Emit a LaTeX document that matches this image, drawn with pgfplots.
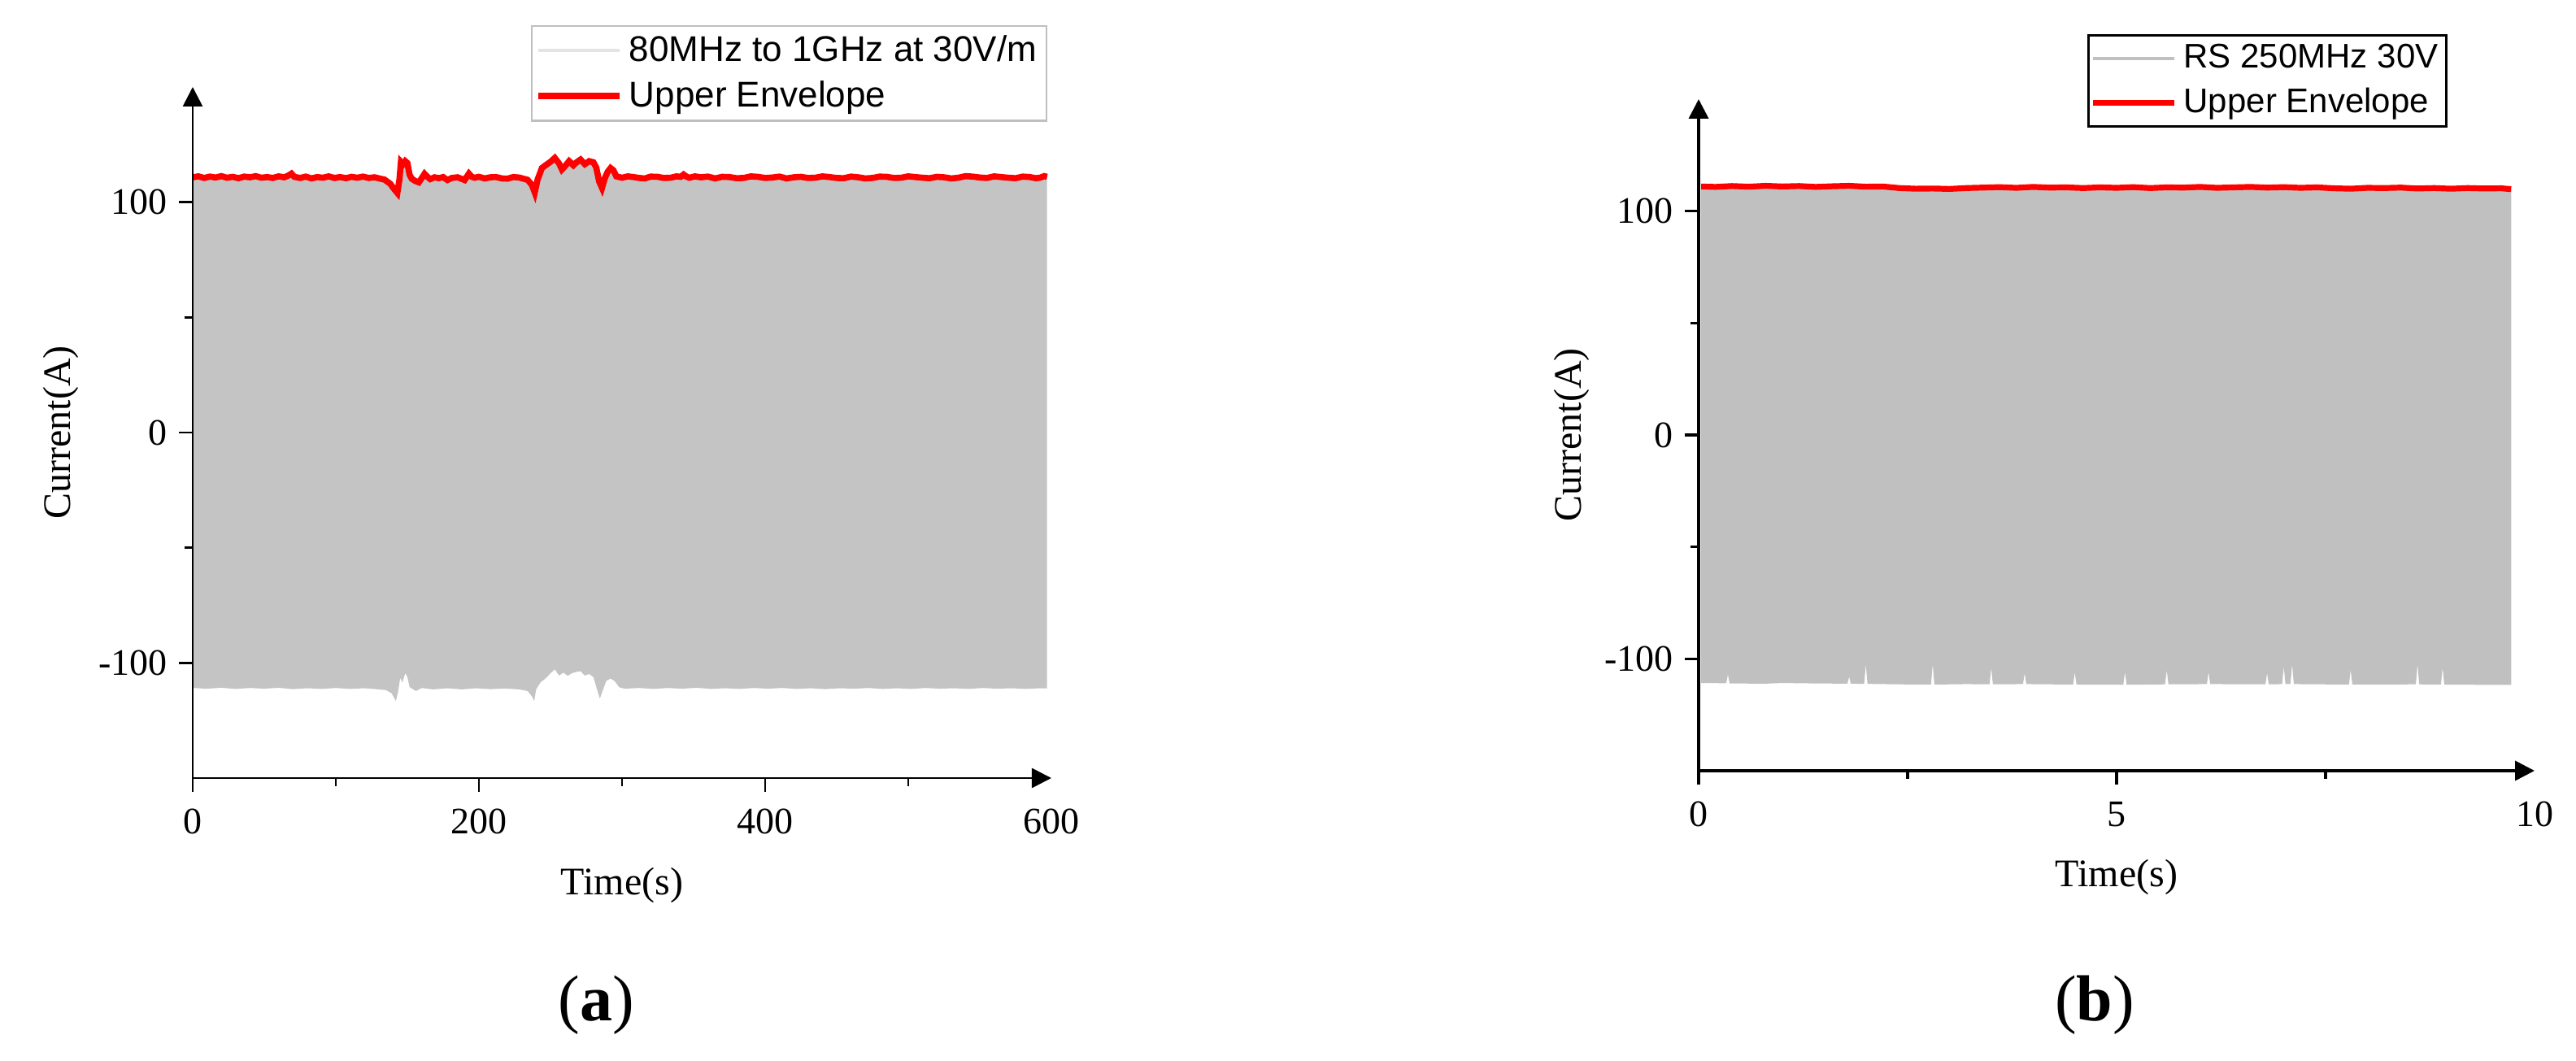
\documentclass[border=0pt]{standalone}
\usepackage{fontspec}
\setmainfont{Liberation Serif}
\newfontfamily\arial{Liberation Sans}
\usepackage{pgfplots}
\usepackage{pgfplotstable}
\pgfplotsset{compat=1.18}
\usepgfplotslibrary{fillbetween}
\usetikzlibrary{arrows.meta}
\definecolor{grayA}{RGB}{196,196,196}
\definecolor{grayB}{RGB}{192,192,192}
\definecolor{legA}{RGB}{228,228,228}

\pgfplotstableread{
x y
0 110.8
4 111.2
8 110.5
12 111.1
16 110.7
20 111.3
24 110.6
28 111.0
32 110.4
36 111.1
40 110.8
44 111.3
48 110.6
52 110.9
56 110.5
60 111.2
64 110.8
67 111.6
69 112.4
71 111.0
75 110.5
79 111.1
83 110.3
87 110.9
91 110.6
95 111.2
99 110.5
103 110.9
107 110.4
111 111.0
115 110.6
119 111.1
123 110.5
127 110.8
131 110.2
134 109.8
138 108.0
141 105.5
143 104.0
144.5 110
145.5 117.5
147 116.5
148.5 117.8
150 117.0
151.5 112
153 110.2
155.5 109.2
158 108.6
160 110.4
162 112.3
164 111.0
166 110.0
169 110.8
172 110.4
175 110.9
178 109.6
181 110.5
185 110.8
188 110.1
190 109.6
193 112.4
195 111.0
197 110.6
200 111.0
204 110.3
208 110.8
212 110.9
216 110.3
220 110.2
224 110.9
228 110.7
231 110.2
234 109.7
237 107.5
239 104.2
241 109.8
244 114.8
247 116.2
250 117.5
253 119.2
256 116.8
258 114.2
260 115.5
263 117.8
266 116.0
268 117.2
271 118.5
274 116.5
277 117.8
280 117.3
282 115.0
284 109
286 106.2
288 110.5
290 113.2
292 114.8
294 113.8
296 111.2
300 110.6
304 111.2
308 110.9
312 110.5
316 110.3
320 111.1
325 111.0
329 110.5
334 110.6
338 111.2
341 111.0
343 112.0
345 111.1
347 110.6
351 111.2
355 110.8
360 111.1
365 110.3
370 111.0
375 110.9
380 110.4
385 110.5
390 111.2
395 111.0
400 110.5
405 110.7
410 111.1
415 110.3
420 110.8
425 111.0
430 110.5
435 110.6
440 111.2
445 110.9
450 110.5
455 110.4
460 111.1
465 110.8
470 110.3
475 110.5
480 111.1
485 111.0
490 110.5
495 110.6
500 111.2
505 110.9
510 110.6
515 110.4
520 111.0
525 110.8
530 110.3
535 110.6
540 111.3
545 111.1
550 110.7
555 110.5
560 111.2
565 110.9
570 110.6
575 110.4
580 111.1
585 110.9
589 110.4
592 110.6
595 111.3
597 111.0
}\upperA

\pgfplotstableread{
x y
0 -110.9
10 -111.2
20 -110.8
30 -111.3
40 -110.9
50 -111.2
60 -110.8
70 -111.4
80 -111.0
90 -111.3
100 -110.9
110 -111.3
120 -111.0
128 -111.4
135 -111.8
139 -113.2
142 -116.6
143.5 -112.5
145 -106.5
146.5 -108.5
148.5 -104.5
150 -106
151.5 -110.5
156 -112.2
160 -110.9
168 -111.5
178 -111.0
188 -111.5
198 -111.0
208 -111.4
218 -111.1
228 -111.5
234 -112.2
237 -114.5
238.6 -116.6
240 -111.5
243 -108.5
247 -106.5
250 -104.5
253 -102.8
256 -105.5
259 -104.2
262 -105.6
265 -104.5
268 -103.9
271 -103.6
274 -105.5
277 -104.8
280 -106.2
282.5 -111.5
284.5 -115.5
286.5 -112
289 -107.8
292 -106.8
295 -108
298 -110.6
302 -111.2
312 -110.9
322 -111.3
332 -110.9
342 -111.2
352 -110.8
362 -111.3
372 -111.0
382 -111.3
392 -110.9
402 -111.2
412 -110.9
422 -111.3
432 -111.0
442 -111.4
452 -111.0
462 -111.2
472 -110.9
482 -111.3
492 -111.0
502 -111.3
512 -110.9
522 -111.2
532 -111.0
542 -111.3
552 -110.9
562 -111.2
572 -111.0
582 -111.3
592 -111.0
597 -111.1
}\lowerA

\pgfplotstableread{
x y
0.03 111.0
0.2 110.8
0.4 111.2
0.6 110.9
0.8 111.3
1.0 111.0
1.2 111.2
1.4 110.8
1.6 111.1
1.8 111.3
2.0 110.9
2.2 111.0
2.4 110.3
2.6 110.0
2.8 110.1
3.0 109.9
3.2 110.3
3.4 110.5
3.6 110.7
3.8 110.4
4.0 110.8
4.2 110.5
4.4 110.6
4.6 110.3
4.8 110.6
5.0 110.4
5.2 110.7
5.4 110.3
5.6 110.6
5.8 110.5
6.0 110.8
6.2 110.4
6.4 110.6
6.6 110.8
6.8 110.5
7.0 110.7
7.2 110.4
7.4 110.6
7.6 110.2
7.8 110.0
8.0 110.4
8.2 110.3
8.4 110.5
8.6 110.1
8.8 110.3
9.0 110.0
9.2 110.3
9.4 110.1
9.6 110.2
9.72 109.8
}\upperB

\pgfplotstableread{
x y
0.03 -110.8
0.33 -110.9
0.35 -107
0.37 -111.0
0.8 -111.1
1.0 -110.8
1.4 -111.0
1.78 -111.1
1.8 -108
1.82 -111.1
1.98 -111.2
2.0 -102.5
2.02 -111.2
2.4 -111.4
2.78 -111.5
2.8 -102.5
2.82 -111.5
3.2 -111.3
3.48 -111.4
3.5 -104
3.52 -111.4
3.88 -111.3
3.9 -106.5
3.92 -111.3
4.48 -111.5
4.5 -106
4.52 -111.5
5.08 -111.6
5.1 -106
5.12 -111.6
5.58 -111.4
5.6 -105
5.62 -111.4
6.08 -111.3
6.1 -106
6.12 -111.3
6.78 -111.4
6.8 -106.5
6.82 -111.4
6.98 -111.3
7.0 -103.5
7.02 -111.3
7.08 -111.3
7.1 -102.5
7.12 -111.3
7.78 -111.5
7.8 -105
7.82 -111.5
8.58 -111.4
8.6 -102.5
8.62 -111.4
8.88 -111.5
8.9 -104
8.92 -111.5
9.3 -111.6
9.72 -111.6
}\lowerB

\pgfplotsset{
  common/.style={
    scale only axis, anchor=south west,
    axis lines=left, axis on top,
    axis line style={line width=0.7pt, -{Triangle[width=6pt,length=6pt]}},
    ymin=-150, ymax=150,
    ytick={-100,0,100}, yticklabels={-100,0,100},
    minor ytick={-50,50},
    tick align=outside, major tick length=4.25pt, minor tick length=2.5pt,
    every tick/.style={black, line width=0.7pt},
    tick label style={font=\fontsize{11.5}{13}\selectfont},
    xticklabel style={yshift=-1.75pt},
    extra x tick style={major tick length=0pt, xticklabel style={yshift=-4.25pt}},
    label style={font=\fontsize{12}{14}\selectfont},
    xlabel={Time(s)}, ylabel={Current(A)},
    legend cell align=left,
    legend image code/.code={\draw[##1] (0pt,0pt) -- (25pt,0pt);},
  }
}

\begin{document}
\begin{tikzpicture}
\path (0,0) rectangle (792pt,326.25pt);

% ---------------- panel (a) ----------------
\begin{axis}[common,
  at={(59.25pt,87pt)}, width=264pt, height=212.5pt,
  xmin=0, xmax=600,
  xtick={0,200,400}, xticklabels={0,200,400},
  minor xtick={100,300,500},
  extra x ticks={600}, extra x tick labels={600},
  xlabel style={at={([yshift=-33pt]axis description cs:0.5,0)}, anchor=center},
  ylabel style={at={([xshift=-40.5pt]axis description cs:0,0.5)}, anchor=center},
  legend style={at={(axis description cs:0.394,1.0894)}, anchor=north west,
    draw=gray!50, line width=0.6pt, font=\arial\fontsize{11}{12.5}\selectfont,
    inner xsep=1pt, inner ysep=0.8pt, row sep=0.5pt},
]
\addplot[draw=none, name path=UA, forget plot] table[x=x,y=y]{\upperA};
\addplot[draw=none, name path=LA, forget plot] table[x=x,y=y]{\lowerA};
\addplot[fill=grayA, draw=none, forget plot] fill between[of=UA and LA];
\addlegendimage{legA, line width=1pt}
\addlegendentry{80MHz to 1GHz at 30V/m}
\addplot[red, line width=1.9pt] table[x=x,y=y]{\upperA};
\addlegendentry{Upper Envelope}
\end{axis}

% ---------------- panel (b) ----------------
\begin{axis}[common,
  at={(522.25pt,89.25pt)}, width=257pt, height=206.5pt,
  axis line style={line width=0.9pt},
  every tick/.style={black, line width=0.9pt},
  xmin=0, xmax=10,
  xtick={0,5}, xticklabels={0,5},
  minor xtick={2.5,7.5},
  extra x ticks={10}, extra x tick labels={10},
  xlabel style={at={([yshift=-32.75pt]axis description cs:0.5,0)}, anchor=center},
  ylabel style={at={([xshift=-39pt]axis description cs:0,0.5)}, anchor=center},
  legend style={at={(axis description cs:0.465,1.0969)}, anchor=north west,
    draw=black, line width=0.7pt, font=\arial\fontsize{10.5}{12}\selectfont,
    inner xsep=0.5pt, inner ysep=0.8pt, row sep=0.5pt},
]
\addplot[draw=none, name path=UB, forget plot] table[x=x,y=y]{\upperB};
\addplot[draw=none, name path=LB, forget plot] table[x=x,y=y]{\lowerB};
\addplot[fill=grayB, draw=none, forget plot] fill between[of=UB and LB];
\addlegendimage{grayB, line width=1pt}
\addlegendentry{RS 250MHz 30V}
\addplot[red, line width=1.8pt] table[x=x,y=y]{\upperB};
\addlegendentry{Upper Envelope}
\end{axis}

\node[font=\fontsize{20}{24}\selectfont] at (183.25pt,17.25pt) {(\textbf{a})};
\node[font=\fontsize{20}{24}\selectfont] at (644pt,17.25pt) {(\textbf{b})};
\end{tikzpicture}
\end{document}
